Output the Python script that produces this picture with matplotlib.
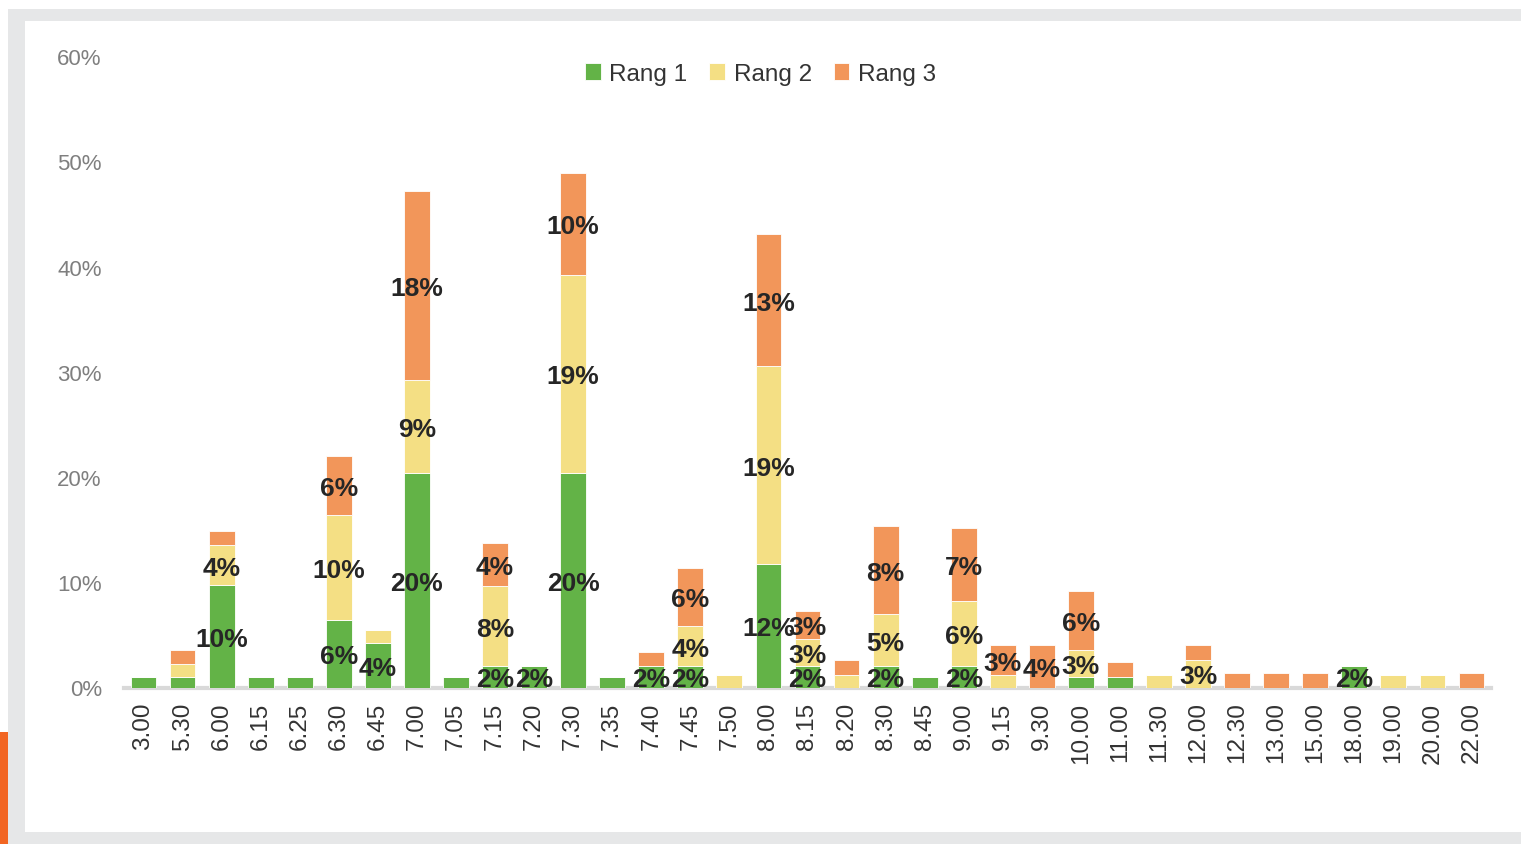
import numpy as np
import matplotlib
matplotlib.use("Agg")
import matplotlib.pyplot as plt
from matplotlib.patches import Rectangle

#==============#
# data (in %)  #
#==============#
hours = ["3.00", "5.30", "6.00", "6.15", "6.25", "6.30", "6.45", "7.00", "7.05",
         "7.15", "7.20", "7.30", "7.35", "7.40", "7.45", "7.50", "8.00", "8.15",
         "8.20", "8.30", "8.45", "9.00", "9.15", "9.30", "10.00", "11.00", "11.30",
         "12.00", "12.30", "13.00", "15.00", "18.00", "19.00", "20.00", "22.00"]

rang1 = [1.0, 1.0, 9.7, 1.0, 1.0, 6.4, 4.2, 20.4, 1.0,
         2.0, 2.0, 20.4, 1.0, 2.0, 2.0, 0.0, 11.7, 2.0,
         0.0, 2.0, 1.0, 2.0, 0.0, 0.0, 1.0, 1.0, 0.0,
         0.0, 0.0, 0.0, 0.0, 2.0, 0.0, 0.0, 0.0]

rang2 = [0.0, 1.2, 3.8, 0.0, 0.0, 10.0, 1.3, 8.8, 0.0,
         7.6, 0.0, 18.8, 0.0, 0.0, 3.8, 1.2, 18.8, 2.6,
         1.2, 5.0, 0.0, 6.2, 1.2, 0.0, 2.6, 0.0, 1.2,
         2.6, 0.0, 0.0, 0.0, 0.0, 1.2, 1.2, 0.0]

rang3 = [0.0, 1.4, 1.4, 0.0, 0.0, 5.6, 0.0, 18.0, 0.0,
         4.1, 0.0, 9.7, 0.0, 1.4, 5.6, 0.0, 12.6, 2.7,
         1.4, 8.3, 0.0, 7.0, 2.8, 4.0, 5.6, 1.4, 0.0,
         1.4, 1.4, 1.4, 1.4, 0.0, 0.0, 0.0, 1.4]

series = [("Rang 1", rang1, "#63b347"),
          ("Rang 2", rang2, "#f4df84"),
          ("Rang 3", rang3, "#f2965a")]

yticks = [0, 10, 20, 30, 40, 50, 60]

#==============#
# plot options #
#==============#
plt.rcParams['font.family'] = ['Liberation Sans', 'DejaVu Sans']

W, H = 1521, 845
fig = plt.figure(figsize=(W / 100, H / 100), dpi=100, facecolor="white")

# frame: gray border, white panel, orange strip
def px_rect(x0, y0, x1, y1, color):
    fig.add_artist(Rectangle((x0 / W, 1 - y1 / H), (x1 - x0) / W, (y1 - y0) / H,
                             transform=fig.transFigure, facecolor=color,
                             edgecolor="none", zorder=-10))

px_rect(8, 10, W, H, "#e6e7e8")
px_rect(25, 22, W, 832.5, "white")
px_rect(0, 733, 8, H, "#f26522")

ax = fig.add_axes([124 / W, 1 - 688.5 / H, 1367 / W, (688.5 - 57) / H])
ax.set_facecolor("none")

x = np.arange(len(hours))
bottom = np.zeros(len(hours))
for name, vals, col in series:
    vals = np.array(vals)
    ax.bar(x, vals, width=0.66, bottom=bottom, color=col,
           edgecolor="white", linewidth=0.6, label=name, zorder=3)
    for xi, b, v in zip(x, bottom, vals):
        if v >= 1.9:
            ax.text(xi, b + v / 2, "%d%%" % int(v + 0.5), ha="center",
                    va="center_baseline", fontsize=19, fontweight="bold",
                    color="#262626", zorder=5)
    bottom += vals

ax.set_xlim(-0.5, len(hours) - 0.5)
ax.set_ylim(0, 60)
ax.set_yticks(yticks)
ax.set_yticklabels(["%d%%" % t for t in yticks])
ax.set_xticks(x)
ax.set_xticklabels(hours, rotation=90)

for s in ["top", "right", "left"]:
    ax.spines[s].set_visible(False)
ax.spines["bottom"].set_color("#d9d9d9")
ax.spines["bottom"].set_linewidth(3)
ax.spines["bottom"].set_zorder(1)

ax.tick_params(axis="y", length=0, pad=16, labelsize=16, labelcolor="#7f7f7f")
ax.tick_params(axis="x", length=0, pad=10, labelsize=17.5, labelcolor="#333333")

fig.legend(loc="center", bbox_to_anchor=(0.5, 1 - 75 / H), ncol=3, frameon=False,
           fontsize=17.5, handlelength=0.65, handleheight=0.65, handletextpad=0.35,
           columnspacing=0.9, labelcolor="#333333")

fig.savefig("out.png", dpi=100, facecolor=fig.get_facecolor())
